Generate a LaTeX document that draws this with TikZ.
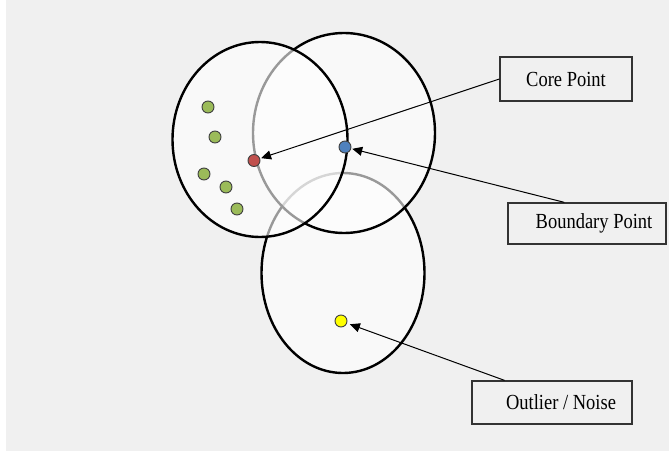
\documentclass[tikz,border=0pt]{standalone}
\usepackage{fontspec}
\setmainfont[FakeStretch=0.86]{Liberation Serif}
\usetikzlibrary{arrows.meta}
\definecolor{bggray}{RGB}{240,240,240}
\definecolor{corered}{RGB}{192,80,77}
\definecolor{bndblue}{RGB}{79,129,189}
\definecolor{ptgreen}{RGB}{155,187,89}
\definecolor{noiseyellow}{RGB}{255,255,0}

\begin{document}
\begin{tikzpicture}[x=1pt,y=-1pt,
    region/.style={draw=black,line width=2.4pt,fill=white,fill opacity=0.6},
    dot/.style={circle,draw=black!75,line width=0.9pt,minimum size=12pt,inner sep=0pt},
    labelbox/.style={draw=black!80,line width=1.3pt,inner sep=0pt,
        font=\fontsize{21.5}{24}\selectfont},
    pointer/.style={line width=1pt,-{Triangle[length=10pt,width=9pt]}}]
        % Page and backdrop
        \useasboundingbox (0,0) rectangle (669,455);
        \fill[white] (0,0) rectangle (669,455);
        \fill[bggray] (6,0) rectangle (669,451);
        % The three eps-neighbourhoods
        \draw[region] (343,273) ellipse [x radius=81.5, y radius=100];
        \draw[region] (344,133) ellipse [x radius=91, y radius=100];
        \draw[region] (260,139.5) ellipse [x radius=87.5, y radius=97.5];
        % Neighbours of the core point
        \node[dot,fill=ptgreen] (g1) at (208,107) {};
        \node[dot,fill=ptgreen] (g2) at (215,137) {};
        \node[dot,fill=ptgreen] (g3) at (204,174) {};
        \node[dot,fill=ptgreen] (g4) at (226,187) {};
        \node[dot,fill=ptgreen] (g5) at (237,209) {};
        % The special points
        \node[dot,fill=corered] (core) at (254,160.5) {};
        \node[dot,fill=bndblue] (bnd) at (345,147) {};
        \node[dot,fill=noiseyellow] (noise) at (341,321) {};
        % Label boxes
        \node[labelbox,minimum width=132pt,minimum height=44pt] (corelbl) at (566,79) {Core Point};
        \node[labelbox,minimum width=158pt,minimum height=41pt] (bndlbl) at (587,223.5) {\hspace*{14pt}Boundary Point};
        \node[labelbox,minimum width=160pt,minimum height=43pt] (noiselbl) at (552,402.5) {\hspace*{18pt}Outlier / Noise};
        % Pointers from the labels
        \draw[pointer,shorten >=1pt] (corelbl.west) -- (core);
        \draw[pointer,shorten >=1pt] (bndlbl.137) -- (bnd);
        \draw[pointer,shorten >=3pt] (noiselbl.155) -- (noise);
\end{tikzpicture}
\end{document}
